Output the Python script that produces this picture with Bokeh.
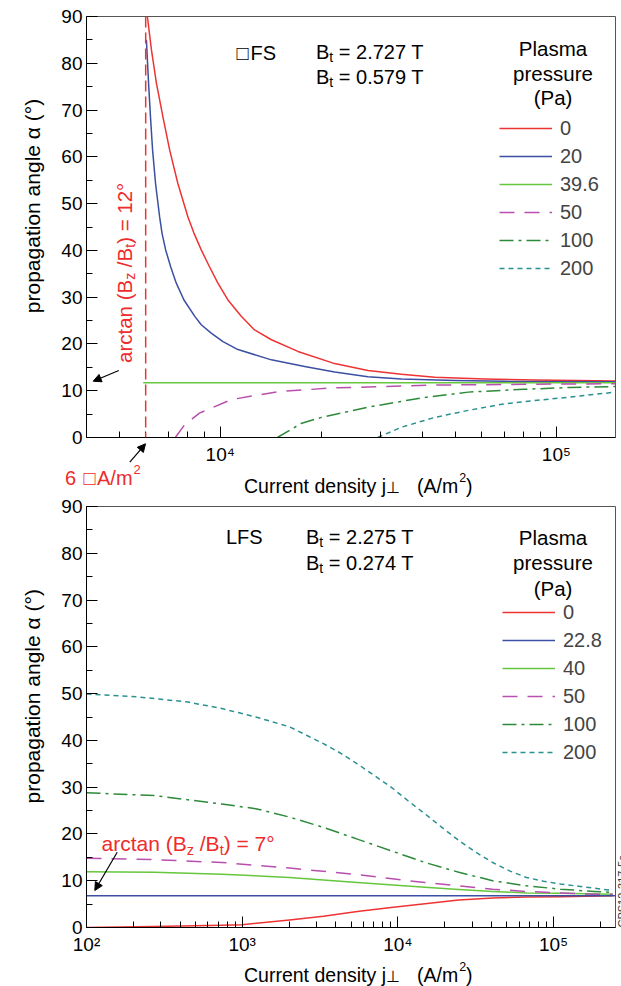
import math
from bokeh.plotting import figure
from bokeh.models import (Range1d, FixedTicker, Label, Arrow, NormalHead, Legend,
                          LegendItem, Span, CustomJSTickFormatter, GridBox, Column)
from bokeh.embed import file_html
from bokeh.resources import INLINE

# ---------------- data ----------------
# HFS panel: current density j (A/m^2) and propagation angle (deg)
hfs_labels = ["0", "20", "39.6", "50", "100", "200"]
hfs_j_0 = [6070, 6240, 6460, 6750, 7070, 7480, 8010, 8350, 8780, 9290, 9840, 10540, 11550,
           12650, 14200, 17030, 21900, 27500, 34600, 43500, 61300, 86300, 150000]
hfs_a_0 = [90.0, 82.9, 75.7, 68.6, 61.5, 54.3, 47.2, 43.7, 40.1, 36.5, 33.0, 29.4, 25.9,
           23.0, 20.9, 18.4, 15.8, 14.3, 13.5, 12.9, 12.5, 12.3, 12.1]
hfs_j_20 = [6030, 6120, 6200, 6290, 6420, 6600, 6710, 6880, 7120, 7400, 7800, 8400, 8780,
            9400, 10190, 11290, 14190, 17830, 21900, 27500, 34600, 50000, 70000, 150000]
hfs_a_20 = [85.0, 75.7, 68.6, 61.5, 54.3, 47.2, 43.7, 40.1, 36.5, 33.0, 29.4, 25.9, 24.1,
            22.3, 20.5, 18.8, 16.6, 15.2, 14.0, 13.0, 12.5, 12.2, 12.0, 11.9]
hfs_j_396 = [5900, 10000, 30000, 100000, 150000]
hfs_a_396 = [11.7, 11.7, 11.7, 11.7, 11.7]
hfs_j_50 = [7350, 7830, 8670, 10780, 14850, 21600, 27500, 43500, 86300, 150000]
hfs_a_50 = [0.0, 2.7, 5.2, 8.1, 9.8, 10.6, 10.8, 11.2, 11.4, 11.5]
hfs_j_100 = [14800, 17400, 20000, 27600, 40000, 54700, 80000, 110000, 150000]
hfs_a_100 = [0.0, 3.0, 4.3, 6.5, 8.5, 9.7, 10.3, 10.7, 10.9]
hfs_j_200 = [29400, 34600, 43500, 54700, 68800, 86300, 108600, 150000]
hfs_a_200 = [0.0, 2.2, 4.3, 5.8, 7.1, 7.9, 8.6, 9.7]
hfs_j_crit = 6000

# LFS panel
lfs_labels = ["0", "22.8", "40", "50", "100", "200"]
lfs_j_0 = [100, 272, 741, 1000, 2015, 3325, 5485, 9052, 14930, 24630, 40630, 67000, 110500, 240000]
lfs_a_0 = [0.0, 0.2, 0.5, 0.6, 1.6, 2.4, 3.4, 4.3, 5.1, 5.9, 6.3, 6.5, 6.6, 6.8]
lfs_j_228 = [100, 1000, 10000, 100000, 250000]
lfs_a_228 = [6.8, 6.8, 6.8, 6.8, 6.8]
lfs_j_40 = [100, 272, 741, 2015, 5485, 14930, 24630, 40630, 67000, 110500, 240000]
lfs_a_40 = [11.9, 11.8, 11.4, 10.7, 9.6, 8.6, 8.1, 7.7, 7.4, 7.3, 7.1]
lfs_j_50 = [100, 272, 741, 2015, 5485, 14930, 24630, 40630, 67000, 110500, 182300, 240000]
lfs_a_50 = [14.8, 14.5, 13.9, 12.7, 11.3, 9.6, 8.9, 8.2, 7.7, 7.4, 7.1, 7.1]
lfs_j_100 = [100, 272, 741, 1222, 2015, 3325, 5485, 9052, 14930, 24630, 40630, 67000,
             110500, 182300, 240000]
lfs_a_100 = [28.8, 28.2, 26.4, 25.4, 23.6, 21.4, 18.9, 16.4, 13.9, 11.8, 10.0, 8.9,
             8.2, 7.7, 7.5]
lfs_j_200 = [100, 212, 449, 741, 1222, 2015, 2590, 3325, 4270, 5485, 7050, 9052, 11620,
             14930, 19170, 24630, 31620, 40630, 52170, 67000, 86070, 110500, 182300, 240000]
lfs_a_200 = [49.9, 49.3, 48.2, 46.8, 45.0, 42.9, 41.1, 39.3, 37.3, 35.0, 32.5, 30.0, 27.1,
             24.3, 21.4, 18.6, 16.1, 13.9, 12.1, 10.7, 9.9, 9.3, 8.4, 7.9]

y_major = [0, 10, 20, 30, 40, 50, 60, 70, 80, 90]
y_minor = [5, 15, 25, 35, 45, 55, 65, 75, 85]
hfs_x_major = [1e4, 1e5]
hfs_x_minor = [5e3, 6e3, 7e3, 8e3, 9e3, 2e4, 3e4, 4e4, 5e4, 6e4, 7e4, 8e4, 9e4]
lfs_x_major = [1e2, 1e3, 1e4, 1e5]
lfs_x_minor = [m * d for d in (1e2, 1e3, 1e4, 1e5) for m in (2, 3, 4, 5, 6, 7, 8, 9)]

# ---------------- style ----------------
FONT = "Liberation Sans"
RED = "#ee3333"
BLUE = "#3b4fa3"
LGREEN = "#66c63d"
MAGENTA = "#b84fae"
DGREEN = "#2d8a3a"
TEAL = "#2b9090"
TXTRED = "#ee2c2c"
styles = [(RED, "solid"), (BLUE, "solid"), (LGREEN, "solid"),
          (MAGENTA, "15 10"), (DGREEN, "14 5 3 5"), (TEAL, "5 4")]

W = {' ': 278, '(': 333, ')': 333, '/': 278, '=': 584, '.': 278, '°': 400, '²': 333,
     'A': 667, 'B': 667, 'C': 722, 'F': 611, 'L': 556, 'P': 667, 'S': 667, 'T': 611,
     'a': 556, 'c': 500, 'd': 556, 'e': 556, 'g': 556, 'i': 222, 'j': 222, 'l': 222,
     'm': 833, 'n': 556, 'o': 556, 'p': 556, 'r': 333, 's': 500, 't': 278, 'u': 556,
     'y': 500, 'z': 500, 'α': 578}


def tw(s, size):
    return sum(W.get(ch, 556) for ch in s) * size / 1000.0


# transparent overlay covering the page, in page-pixel coordinates, for free text/arrows
ov = figure(width=621, height=986, x_range=Range1d(0, 621), y_range=Range1d(986, 0),
            output_backend="svg", toolbar_location=None,
            x_axis_location=None, y_axis_location=None,
            min_border_left=0, min_border_right=0, min_border_top=0, min_border_bottom=0)
ov.grid.visible = False
ov.outline_line_color = None
ov.background_fill_alpha = 0
ov.border_fill_alpha = 0
if hasattr(ov, "frame_align"):
    ov.frame_align = False


def lab(gx, gy, text, size, color="black", angle=0.0, align="left"):
    ov.add_layout(Label(x=gx, y=gy, text=text, angle=angle, text_align=align,
                        text_baseline="alphabetic", text_font=FONT,
                        text_font_size=f"{size}px", text_color=color))


def rich(gx, gy, parts, color="black", rotated=False):
    adv = 0.0
    for text, size, shift in parts:
        lead = len(text) - len(text.lstrip(" "))
        adv += tw(" " * lead, size)
        t = text.strip(" ")
        if rotated:
            lab(gx + shift, gy - adv, t, size, color, angle=math.pi / 2)
        else:
            lab(gx + adv, gy + shift, t, size, color)
        adv += tw(t, size)


def arrow(g0, g1):
    ov.add_layout(Arrow(end=NormalHead(size=8, fill_color="black", line_color="black"),
                        x_start=g0[0], y_start=g0[1], x_end=g1[0], y_end=g1[1],
                        line_color="black", line_width=1.2))


sup_js = """
const e = Math.round(Math.log10(tick));
const sup = {'0':'\u2070','1':'\u00b9','2':'\u00b2','3':'\u00b3','4':'\u2074',
             '5':'\u2075','6':'\u2076','7':'\u2077','8':'\u2078','9':'\u2079','-':'\u207b'};
return '10' + String(e).split('').map(c => sup[c]).join('');
"""


def make_fig(height, top, bottom, x0, x1, xmaj, xmin):
    p = figure(width=621, height=height, x_axis_type="log",
               x_range=Range1d(x0, x1), y_range=Range1d(0, 90),
               output_backend="svg", toolbar_location=None,
               min_border_left=86, min_border_right=6,
               min_border_top=top, min_border_bottom=bottom)
    p.grid.visible = False
    p.outline_line_color = "#555555"
    p.outline_line_width = 1
    p.background_fill_color = "white"
    p.border_fill_color = "white"
    for ax in (p.xaxis[0], p.yaxis[0]):
        ax.axis_line_color = "black"
        ax.axis_line_width = 1
        ax.major_tick_line_color = "black"
        ax.minor_tick_line_color = "black"
        ax.major_tick_in = 11
        ax.major_tick_out = 0
        ax.minor_tick_in = 6
        ax.minor_tick_out = 0
        ax.major_label_text_font = FONT
        ax.major_label_text_font_size = "19px"
        ax.major_label_text_color = "black"
    p.yaxis.ticker = FixedTicker(ticks=y_major, minor_ticks=y_minor)
    p.yaxis.major_label_standoff = 4
    p.xaxis.ticker = FixedTicker(ticks=xmaj, minor_ticks=xmin)
    p.xaxis.formatter = CustomJSTickFormatter(code=sup_js)
    p.xaxis.major_label_standoff = 6
    return p


def add_series(p, series, labels, loc):
    items = []
    for (xs, ys), (col, dash), lb in zip(series, styles, labels):
        r = p.line(xs, ys, line_color=col, line_width=1.5, line_dash=dash,
                   line_join="round")
        items.append(LegendItem(label=lb, renderers=[r]))
    leg = Legend(items=items, location=loc, orientation="vertical",
                 glyph_width=53, glyph_height=20, label_height=20, label_standoff=8,
                 spacing=5, padding=0, margin=0, border_line_color=None,
                 background_fill_alpha=0, label_text_font=FONT,
                 label_text_font_size="20px")
    p.add_layout(leg)


def axis_labels(ycenter, xbase):
    lab(31.5, ycenter, "propagation angle α (°)", 21, angle=math.pi / 2, align="center")
    lab(243.5, xbase, "Current density j", 19.5)
    lab(385, xbase + 2, "⊥", 16)
    lab(416.5, xbase, "(A/m", 19.5)
    gx2 = 416.5 + tw("(A/m", 19.5) + 1
    lab(gx2, xbase - 8, "2", 12.5)
    lab(gx2 + tw("2", 12.5), xbase, ")", 19.5)


# ---------------- top panel (HFS) ----------------
p1 = make_fig(490, 16, 53, 4000, 150000, hfs_x_major, hfs_x_minor)
p1.add_layout(Span(location=hfs_j_crit, dimension="height", line_color=RED,
                   line_width=1.5, line_dash="11 5"))
add_series(p1, [(hfs_j_0, hfs_a_0), (hfs_j_20, hfs_a_20), (hfs_j_396, hfs_a_396),
                (hfs_j_50, hfs_a_50), (hfs_j_100, hfs_a_100), (hfs_j_200, hfs_a_200)],
           hfs_labels, (413, 157.5))
lab(236, 52, "\u25a1", 20)
lab(250, 52, "FS", 20)
rich(315.5, 51.7, [("B", 20, 0), ("t", 14, 5), (" = 2.727 T", 20, 0)])
rich(315.5, 76.7, [("B", 20, 0), ("t", 14, 5), (" = 0.579 T", 20, 0)])
lab(552.5, 48.3, "Plasma", 20.5, align="center")
lab(552.5, 73.3, "pressure", 20.5, align="center")
lab(552.5, 96.7, "(Pa)", 20.5, align="center")
rich(124, 362.5, [("arctan (B", 20.5, 0), ("z", 14, 5), (" /B", 20.5, 0),
                  ("t", 14, 5), (") = 12°", 20.5, 0)], color=TXTRED, rotated=True)
arrow((118.3, 370), (92.7, 380.7))
lab(64.5, 477, "6", 20, TXTRED)
lab(83, 477, "\u25a1", 20, TXTRED)
lab(96.5, 477, "A/m", 20, TXTRED)
lab(96.5 + tw("A/m", 20) + 1, 469, "2", 13, TXTRED)
arrow((129.3, 461.7), (145, 443.3))
axis_labels(205.5, 485)

# ---------------- bottom panel (LFS) ----------------
p2 = make_fig(496, 16, 59, 100, 250000, lfs_x_major, lfs_x_minor)
add_series(p2, [(lfs_j_0, lfs_a_0), (lfs_j_228, lfs_a_228), (lfs_j_40, lfs_a_40),
                (lfs_j_50, lfs_a_50), (lfs_j_100, lfs_a_100), (lfs_j_200, lfs_a_200)],
           lfs_labels, (416, 163.5))
lab(225.5, 536.7, "LFS", 20)
rich(305.5, 536.7, [("B", 20, 0), ("t", 14, 5), (" = 2.275 T", 20, 0)])
rich(305.5, 562.7, [("B", 20, 0), ("t", 14, 5), (" = 0.274 T", 20, 0)])
lab(552.5, 536.7, "Plasma", 20.5, align="center")
lab(552.5, 561.7, "pressure", 20.5, align="center")
lab(552.5, 588.0, "(Pa)", 20.5, align="center")
rich(101, 843, [("arctan (B", 21, 0), ("z", 14.5, 6.5), (" /B", 21, 0),
                ("t", 14.5, 6.5), (") = 7°", 21, 0)], color=TXTRED)
arrow((116.7, 851.7), (94.3, 890))
lab(621.5, 927, "CPS12-317-5a", 11, "#333333", angle=math.pi / 2)
axis_labels(695.8, 974)

panels = Column(children=[p1, p2], spacing=0)
layout = GridBox(children=[(panels, 0, 0), (ov, 0, 0)])
open("out.html", "w").write(file_html(layout, INLINE))
